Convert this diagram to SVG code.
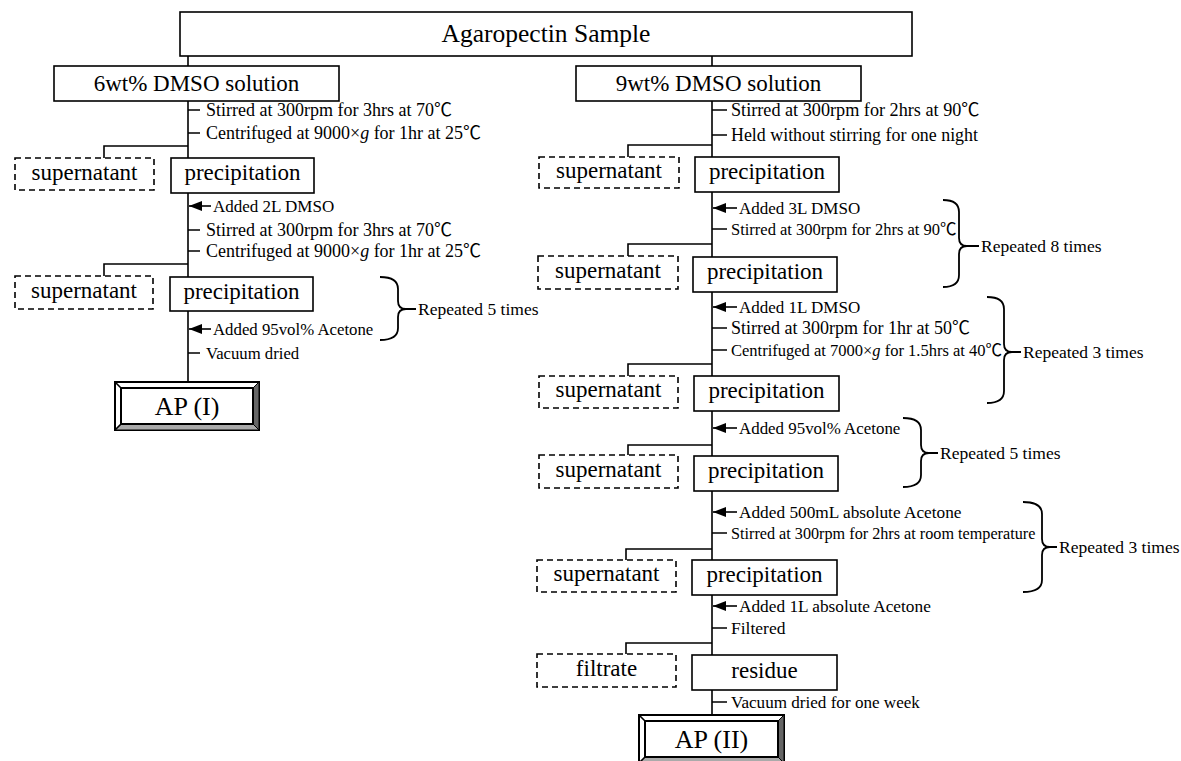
<svg xmlns="http://www.w3.org/2000/svg" width="1181" height="761" viewBox="0 0 1181 761">
<style>
.box{fill:#fff;stroke:#000;stroke-width:1.6}
.dash{fill:#fff;stroke:#000;stroke-width:1.6;stroke-dasharray:6 4}
.ln{fill:none;stroke:#000;stroke-width:1.6}
.br{fill:none;stroke:#000;stroke-width:1.8}
text{font-family:"Liberation Serif","Noto Sans CJK JP",serif;fill:#000}
.lbl{font-size:23px;text-anchor:middle}
.ap{font-size:26px;text-anchor:middle}
.rep{font-size:17.5px}
.dk{fill:#666;stroke:#000;stroke-width:1}
.lt{fill:#aaa;stroke:#000;stroke-width:1}
</style>
<defs>
<marker id="ah" markerUnits="userSpaceOnUse" markerWidth="13" markerHeight="10" refX="13" refY="5" orient="auto">
<path d="M0,0 L13,5 L0,10 z" fill="#000"/>
</marker>
</defs>

<g id="connectors">
<path class="ln" d="M188,56 V66 M188,101 V158 M188,193 V277 M188,311 V382"/>
<path class="ln" d="M188,146 H104 V158 M188,264 H104 V276"/>
<path class="ln" d="M712,56 V66 M712,101 V157 M712,192 V257 M712,292 V376 M712,411 V456 M712,491 V560 M712,595 V655 M712,690 V715"/>
<path class="ln" d="M712,145 H628 V157 M712,244 H628 V256 M712,364 H628 V376 M712,445 H628 V455 M712,549 H626 V560 M712,643 H626 V654"/>
<path class="ln" d="M188,110 H200 M188,133 H200 M188,230 H200 M188,251 H200 M188,353 H200"/>
<path class="ln" d="M712,110 H727 M712,135 H727 M712,229 H727 M712,328 H727 M712,350 H727 M712,533 H727 M712,628 H727 M712,702 H727"/>
<g class="ln" marker-end="url(#ah)">
<line x1="211" y1="206" x2="189" y2="206"/>
<line x1="211" y1="329" x2="189" y2="329"/>
<line x1="737" y1="208" x2="713" y2="208"/>
<line x1="737" y1="307" x2="713" y2="307"/>
<line x1="737" y1="428" x2="713" y2="428"/>
<line x1="737" y1="512" x2="713" y2="512"/>
<line x1="737" y1="606" x2="713" y2="606"/>
</g>
</g>

<g id="steps">
<text x="206" y="116" font-size="18">Stirred at 300rpm for 3hrs at 70℃</text>
<text x="206" y="139" font-size="18">Centrifuged at 9000×<tspan font-style="italic">g</tspan> for 1hr at 25℃</text>
<text x="213" y="212" font-size="17">Added 2L DMSO</text>
<text x="206" y="236" font-size="18">Stirred at 300rpm for 3hrs at 70℃</text>
<text x="206" y="257" font-size="18">Centrifuged at 9000×<tspan font-style="italic">g</tspan> for 1hr at 25℃</text>
<text x="213" y="335" font-size="16.8">Added 95vol% Acetone</text>
<text x="206" y="359" font-size="16.7">Vacuum dried</text>

<text x="731" y="116" font-size="18.2">Stirred at 300rpm for 2hrs at 90℃</text>
<text x="731" y="141" font-size="17.9">Held without stirring for one night</text>
<text x="739" y="214" font-size="17">Added 3L DMSO</text>
<text x="731" y="235" font-size="16.5">Stirred at 300rpm for 2hrs at 90℃</text>
<text x="739" y="313" font-size="17">Added 1L DMSO</text>
<text x="731" y="334" font-size="18">Stirred at 300rpm for 1hr at 50℃</text>
<text x="731" y="356" font-size="16.5">Centrifuged at 7000×<tspan font-style="italic">g</tspan> for 1.5hrs at 40℃</text>
<text x="739" y="434" font-size="16.9">Added 95vol% Acetone</text>
<text x="739" y="518" font-size="17.3">Added 500mL absolute Acetone</text>
<text x="731" y="539" font-size="16.2">Stirred at 300rpm for 2hrs at room temperature</text>
<text x="739" y="612" font-size="17.3">Added 1L absolute Acetone</text>
<text x="731" y="634" font-size="17.5">Filtered</text>
<text x="731" y="708" font-size="17.1">Vacuum dried for one week</text>
</g>

<g id="braces">
<path class="br" d="M380,277 Q398,277 398,289 L398,301 Q398,309 406,309 L416,309 M406,309 Q398,309 398,317 L398,328 Q398,340 380,340"/>
<text class="rep" x="418" y="315">Repeated 5 times</text>
<path class="br" d="M943,200 Q959,200 959,212 L959,238 Q959,246 967,246 L979,246 M967,246 Q959,246 959,254 L959,275 Q959,287 943,287"/>
<text class="rep" x="981" y="252">Repeated 8 times</text>
<path class="br" d="M987,297 Q1004,297 1004,309 L1004,344 Q1004,352 1012,352 L1021,352 M1012,352 Q1004,352 1004,360 L1004,391 Q1004,403 987,403"/>
<text class="rep" x="1023" y="358">Repeated 3 times</text>
<path class="br" d="M903,418 Q921,418 921,430 L921,445 Q921,453 929,453 L938,453 M929,453 Q921,453 921,461 L921,475 Q921,487 903,487"/>
<text class="rep" x="940" y="459">Repeated 5 times</text>
<path class="br" d="M1023,502 Q1042,502 1042,514 L1042,539 Q1042,547 1050,547 L1057,547 M1050,547 Q1042,547 1042,555 L1042,580 Q1042,592 1023,592"/>
<text class="rep" x="1059" y="553">Repeated 3 times</text>
</g>

<g id="n-sample">
<rect class="box" x="180" y="12" width="732" height="44"/>
<text x="546" y="42" font-size="25.5" text-anchor="middle">Agaropectin Sample</text>
</g>
<g id="n-6wt">
<rect class="box" x="54" y="66" width="285" height="35"/>
<text class="lbl" x="196.5" y="91">6wt% DMSO solution</text>
</g>
<g id="n-9wt">
<rect class="box" x="576" y="66" width="285" height="35"/>
<text class="lbl" x="718.5" y="91">9wt% DMSO solution</text>
</g>

<g id="n-l-sup1"><rect class="dash" x="15" y="158" width="139" height="32"/><text class="lbl" x="84.5" y="180">supernatant</text></g>
<g id="n-l-pre1"><rect class="box" x="171" y="158" width="143" height="35"/><text class="lbl" x="242.5" y="180">precipitation</text></g>
<g id="n-l-sup2"><rect class="dash" x="15" y="276" width="138" height="33"/><text class="lbl" x="84" y="298">supernatant</text></g>
<g id="n-l-pre2"><rect class="box" x="170" y="277" width="143" height="34"/><text class="lbl" x="241.5" y="299">precipitation</text></g>

<g id="n-ap1">
<rect x="115" y="382" width="144" height="48" fill="#fff" stroke="#000" stroke-width="2"/>
<polygon class="dk" points="259,382 253,388 253,424 259,430"/>
<polygon class="lt" points="115,430 121,424 253,424 259,430"/>
<path class="ln" d="M115,382 L121,388 M115,430 L121,424"/>
<rect x="121" y="388" width="132" height="36" fill="#fff" stroke="#000" stroke-width="2"/>
<text class="ap" x="187" y="415">AP (I)</text>
</g>

<g id="n-r-sup1"><rect class="dash" x="539" y="157" width="140" height="31"/><text class="lbl" x="609" y="178">supernatant</text></g>
<g id="n-r-pre1"><rect class="box" x="695" y="157" width="144" height="35"/><text class="lbl" x="767" y="179">precipitation</text></g>
<g id="n-r-sup2"><rect class="dash" x="538" y="256" width="140" height="33"/><text class="lbl" x="608" y="278">supernatant</text></g>
<g id="n-r-pre2"><rect class="box" x="693" y="257" width="144" height="35"/><text class="lbl" x="765" y="279">precipitation</text></g>
<g id="n-r-sup3"><rect class="dash" x="539" y="376" width="139" height="32"/><text class="lbl" x="608.5" y="397">supernatant</text></g>
<g id="n-r-pre3"><rect class="box" x="694" y="376" width="145" height="35"/><text class="lbl" x="766.5" y="398">precipitation</text></g>
<g id="n-r-sup4"><rect class="dash" x="539" y="455" width="139" height="33"/><text class="lbl" x="608.5" y="477">supernatant</text></g>
<g id="n-r-pre4"><rect class="box" x="694" y="456" width="144" height="35"/><text class="lbl" x="766" y="478">precipitation</text></g>
<g id="n-r-sup5"><rect class="dash" x="537" y="560" width="139" height="32"/><text class="lbl" x="606.5" y="581">supernatant</text></g>
<g id="n-r-pre5"><rect class="box" x="692" y="560" width="145" height="35"/><text class="lbl" x="764.5" y="582">precipitation</text></g>
<g id="n-filtrate"><rect class="dash" x="537" y="654" width="139" height="33"/><text class="lbl" x="606.5" y="676">filtrate</text></g>
<g id="n-residue"><rect class="box" x="692" y="655" width="145" height="35"/><text class="lbl" x="764.5" y="678">residue</text></g>

<g id="n-ap2">
<rect x="639" y="715" width="145" height="48" fill="#fff" stroke="#000" stroke-width="2"/>
<polygon class="dk" points="784,715 778,721 778,757 784,763"/>
<polygon class="lt" points="639,763 645,757 778,757 784,763"/>
<path class="ln" d="M639,715 L645,721 M639,763 L645,757"/>
<rect x="645" y="721" width="133" height="36" fill="#fff" stroke="#000" stroke-width="2"/>
<text class="ap" x="711.5" y="748">AP (II)</text>
</g>
</svg>
